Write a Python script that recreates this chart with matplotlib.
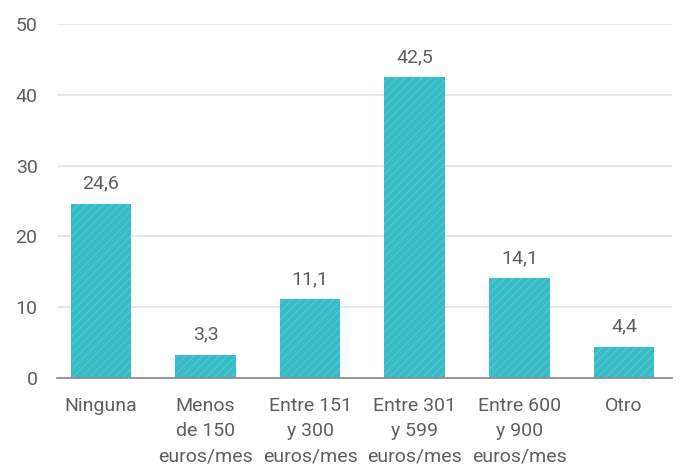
import matplotlib.pyplot as plt

# Data
categories = ["Ninguna", "Menos\nde 150\neuros/mes", "Entre 151\ny 300\neuros/mes",
              "Entre 301\ny 599\neuros/mes", "Entre 600\ny 900\neuros/mes", "Otro"]
values = [24.6, 3.3, 11.1, 42.5, 14.1, 4.4]
value_labels = ["24,6", "3,3", "11,1", "42,5", "14,1", "4,4"]
yticks = [0, 10, 20, 30, 40, 50]

plt.rcParams['font.family'] = ['Roboto', 'DejaVu Sans']
plt.rcParams['hatch.color'] = '#4fc6d0'
plt.rcParams['hatch.linewidth'] = 1.0

text_color = '#5e5e5e'

fig = plt.figure(figsize=(6.81, 4.66), dpi=100)
ax = fig.add_axes([57 / 681, 1 - 378 / 466, 615 / 681, (378 - 24) / 466])

x = list(range(len(categories)))
ax.bar(x, values, width=0.58, color='#37bcc8', hatch='////', linewidth=0, zorder=2)

# Data labels
for i, v in enumerate(values):
    ax.annotate(value_labels[i], (i, v), xytext=(0, 8), textcoords='offset points',
                ha='center', va='bottom', fontsize=14, color=text_color)

ax.set_xlim(-0.42, 5.46)
ax.set_ylim(0, 50)
ax.set_yticks(yticks)
ax.set_xticks(x)
ax.set_xticklabels(categories, fontsize=14, color=text_color, linespacing=1.5)
ax.tick_params(axis='y', labelsize=14, labelcolor=text_color, length=0, pad=14)
ax.tick_params(axis='x', length=0, pad=14)

# Grid
ax.yaxis.grid(True, color='#e3e3e3', linewidth=1.2, zorder=0)
ax.set_axisbelow(True)

for s in ['top', 'right', 'left']:
    ax.spines[s].set_visible(False)
ax.spines['bottom'].set_color('#888888')
ax.spines['bottom'].set_linewidth(1.2)

plt.savefig("out.png", dpi=100)
